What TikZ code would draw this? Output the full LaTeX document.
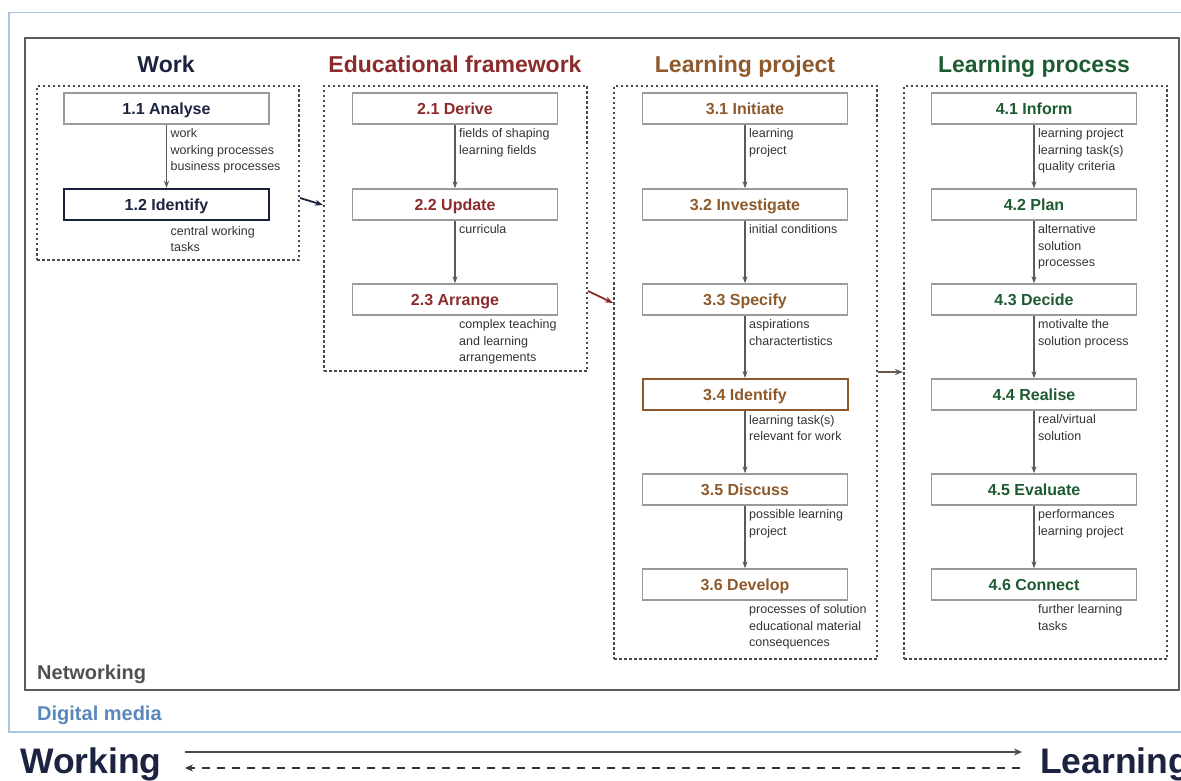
\documentclass[tikz,border=0pt]{standalone}
\usepackage{fontspec}
\setmainfont{Liberation Sans}
\usetikzlibrary{arrows.meta}
\definecolor{navy}{HTML}{1B2340}
\definecolor{efred}{HTML}{8C2B2B}
\definecolor{lpbrown}{HTML}{8E5A2C}
\definecolor{lpgreen}{HTML}{1F5B32}
\definecolor{boxgray}{HTML}{9A9A9A}
\definecolor{grpgray}{HTML}{4A4A4A}
\definecolor{arrgray}{HTML}{5A5A5A}
\definecolor{lblgray}{HTML}{333333}
\definecolor{netgray}{HTML}{505050}
\definecolor{dmblue}{HTML}{5A88BB}
\definecolor{framegray}{HTML}{5C5C5C}
\definecolor{blueframe}{HTML}{A9C5E2}
\begin{document}
\begin{tikzpicture}[x=1pt,y=-1pt,
  box/.style={draw=boxgray, line width=1.3pt, minimum width=205pt, minimum height=31pt, inner sep=0pt, text height=11.5pt, text depth=0pt, font=\fontsize{16}{18}\selectfont\bfseries, fill=white},
  grp/.style={draw=grpgray, line width=2pt, dash pattern=on 2.5pt off 2.5pt, inner sep=0pt, anchor=north west},
  ttl/.style={font=\fontsize{23}{26}\selectfont\bfseries, inner sep=0pt, anchor=base},
  lbl/.style={anchor=north west, align=left, inner sep=0pt, font=\fontsize{12.5}{16.5}\selectfont, text=lblgray},
  flow/.style={draw=arrgray, line width=1.3pt, -{Stealth[length=7pt,width=5pt]}},
  link/.style={line width=1.8pt, -{Stealth[length=8pt,width=6pt]}},
]
\useasboundingbox (0,0) rectangle (1181,781);
% frames
\node[draw=blueframe, line width=1.5pt, anchor=north west, minimum width=1200pt, minimum height=719pt, inner sep=0pt] (dm) at (8,12) {};
\node[draw=framegray, line width=2.4pt, anchor=north west, minimum width=1154pt, minimum height=652pt, inner sep=0pt] (net) at (24,37) {};
\node[anchor=west, inner sep=0pt, font=\fontsize{20}{24}\selectfont\bfseries, text=netgray] (nettxt) at (37,674) {Networking};
\node[anchor=west, inner sep=0pt, font=\fontsize{20}{24}\selectfont\bfseries, text=dmblue] (dmtxt) at (37,715) {Digital media};

% titles
\node[ttl, text=navy] (t1) at (166,72.5) {Work};
\node[ttl, text=efred] (t2) at (455,72.5) {Educational framework};
\node[ttl, text=lpbrown] (t3) at (745,72.5) {Learning project};
\node[ttl, text=lpgreen] (t4) at (1034,72.5) {Learning process};

% groups
\node[grp, minimum width=262pt, minimum height=174pt] (g1) at (36,85) {};
\node[grp, minimum width=263pt, minimum height=285pt] (g2) at (323,85) {};
\node[grp, minimum width=263pt, minimum height=573pt] (g3) at (613,85) {};
\node[grp, minimum width=263pt, minimum height=573pt] (g4) at (903,85) {};

% column 1
\node[box, text=navy] (a1) at (166.5,108.5) {1.1 Analyse};
\node[box, text=navy, draw=navy!90!black, line width=2.4pt] (a2) at (166.5,204.5) {1.2 Identify};
\draw[flow] (a1) -- (a2);
\node[lbl] at ([xshift=4pt,yshift=-4pt]a1.south) {work\\working processes\\business processes};
\node[lbl] at ([xshift=4pt,yshift=-5pt]a2.south) {central working\\tasks};

% column 2
\node[box, text=efred] (b1) at (455,108.5) {2.1 Derive};
\node[box, text=efred] (b2) at (455,204.5) {2.2 Update};
\node[box, text=efred] (b3) at (455,299.5) {2.3 Arrange};
\draw[flow] (b1) -- (b2);
\draw[flow] (b2) -- (b3);
\node[lbl] at ([xshift=4pt,yshift=-4pt]b1.south) {fields of shaping\\learning fields};
\node[lbl] at ([xshift=4pt,yshift=-4pt]b2.south) {curricula};
\node[lbl] at ([xshift=4pt,yshift=-4pt]b3.south) {complex teaching\\and learning\\arrangements};

% column 3
\node[box, text=lpbrown] (c1) at (745,108.5) {3.1 Initiate};
\node[box, text=lpbrown] (c2) at (745,204.5) {3.2 Investigate};
\node[box, text=lpbrown] (c3) at (745,299.5) {3.3 Specify};
\node[box, text=lpbrown, draw=lpbrown, line width=2pt] (c4) at (745,394.5) {3.4 Identify};
\node[box, text=lpbrown] (c5) at (745,489.5) {3.5 Discuss};
\node[box, text=lpbrown] (c6) at (745,584.5) {3.6 Develop};
\draw[flow] (c1) -- (c2);
\draw[flow] (c2) -- (c3);
\draw[flow] (c3) -- (c4);
\draw[flow] (c4) -- (c5);
\draw[flow] (c5) -- (c6);
\node[lbl] at ([xshift=4pt,yshift=-4pt]c1.south) {learning\\project};
\node[lbl] at ([xshift=4pt,yshift=-4pt]c2.south) {initial conditions};
\node[lbl] at ([xshift=4pt,yshift=-4pt]c3.south) {aspirations\\charactertistics};
\node[lbl] at ([xshift=4pt,yshift=-4pt]c4.south) {learning task(s)\\relevant for work};
\node[lbl] at ([xshift=4pt,yshift=-4pt]c5.south) {possible learning\\project};
\node[lbl] at ([xshift=4pt,yshift=-4pt]c6.south) {processes of solution\\educational material\\consequences};

% column 4
\node[box, text=lpgreen] (d1) at (1034,108.5) {4.1 Inform};
\node[box, text=lpgreen] (d2) at (1034,204.5) {4.2 Plan};
\node[box, text=lpgreen] (d3) at (1034,299.5) {4.3 Decide};
\node[box, text=lpgreen] (d4) at (1034,394.5) {4.4 Realise};
\node[box, text=lpgreen] (d5) at (1034,489.5) {4.5 Evaluate};
\node[box, text=lpgreen] (d6) at (1034,584.5) {4.6 Connect};
\draw[flow] (d1) -- (d2);
\draw[flow] (d2) -- (d3);
\draw[flow] (d3) -- (d4);
\draw[flow] (d4) -- (d5);
\draw[flow] (d5) -- (d6);
\node[lbl] at ([xshift=4pt,yshift=-4pt]d1.south) {learning project\\learning task(s)\\quality criteria};
\node[lbl] at ([xshift=4pt,yshift=-4pt]d2.south) {alternative\\solution\\processes};
\node[lbl] at ([xshift=4pt,yshift=-4pt]d3.south) {motivalte the\\solution process};
\node[lbl] at ([xshift=4pt,yshift=-4pt]d4.south) {real/virtual\\solution};
\node[lbl] at ([xshift=4pt,yshift=-4pt]d5.south) {performances\\learning project};
\node[lbl] at ([xshift=4pt,yshift=-4pt]d6.south) {further learning\\tasks};

% links between groups
\coordinate (l1s) at (g1.east |- 0,198);
\coordinate (l1e) at (g2.west |- 0,205);
\draw[link, draw=navy] (l1s) -- (l1e);
\coordinate (l2s) at (g2.east |- 0,291);
\coordinate (l2e) at (g3.west |- 0,303);
\draw[link, draw=efred] (l2s) -- (l2e);
\coordinate (l3s) at (g3.east |- 0,372);
\coordinate (l3e) at (g4.west |- 0,372);
\draw[link, draw=arrgray!80!lpbrown] (l3s) -- (l3e);

% bottom
\node[anchor=west, inner sep=0pt, font=\fontsize{35.5}{40}\selectfont\bfseries, text=navy] (wk) at (20,764) {Working};
\node[anchor=west, inner sep=0pt, font=\fontsize{35.5}{40}\selectfont\bfseries, text=navy] (ln) at (1040,764) {Learning};
\coordinate (ws) at (185,752);
\coordinate (we) at (1022,752);
\coordinate (ds) at (1020,768);
\coordinate (de) at (185,768);
\draw[draw=black!70, line width=2.8pt, -{Stealth[length=8pt,width=7pt]}] (ws) -- (we);
\draw[draw=black!80, line width=1.8pt, dash pattern=on 8pt off 7pt, -{Stealth[length=8pt,width=7pt]}] (ds) -- (de);
\end{tikzpicture}
\end{document}
